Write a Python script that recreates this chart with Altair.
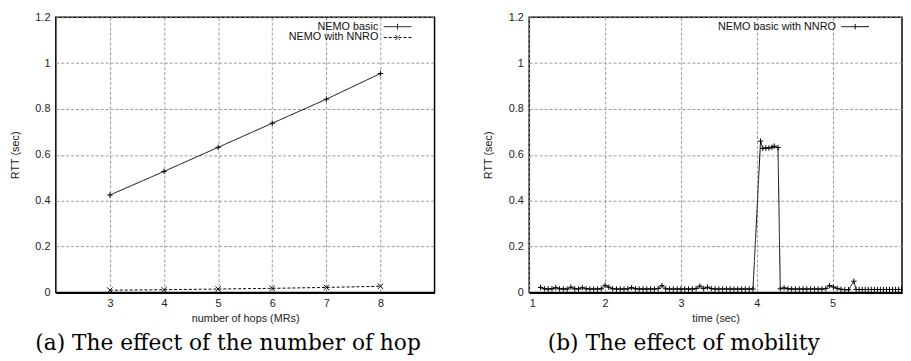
import altair as alt
import pandas as pd

# ---------------- data: panel (a) ----------------
hops = [3, 4, 5, 6, 7, 8]
rtt_basic = [0.425, 0.528, 0.633, 0.738, 0.843, 0.955]
rtt_nnro = [0.010, 0.012, 0.015, 0.018, 0.022, 0.027]
series_a = ["NEMO basic", "NEMO with NNRO"]

# ---------------- data: panel (b) ----------------
time_b = [1.15, 1.20, 1.25, 1.30, 1.35, 1.40, 1.45, 1.50, 1.55, 1.60,
          1.65, 1.70, 1.75, 1.80, 1.85, 1.90, 1.95, 2.00, 2.05, 2.10,
          2.15, 2.20, 2.25, 2.30, 2.35, 2.40, 2.45, 2.50, 2.55, 2.60,
          2.65, 2.70, 2.75, 2.80, 2.85, 2.90, 2.95, 3.00, 3.05, 3.10,
          3.15, 3.20, 3.25, 3.30, 3.35, 3.40, 3.45, 3.50, 3.55, 3.60,
          3.65, 3.70, 3.75, 3.80, 3.85, 3.90, 3.95,
          4.05, 4.08, 4.12, 4.16, 4.20, 4.23, 4.28,
          4.31, 4.36, 4.41, 4.46, 4.51, 4.56, 4.61, 4.66, 4.71, 4.76,
          4.81, 4.86, 4.91, 4.96, 5.01, 5.06, 5.11, 5.16, 5.21, 5.28,
          5.31, 5.35, 5.39, 5.43, 5.47, 5.51, 5.55, 5.59, 5.63, 5.67,
          5.71, 5.75, 5.79, 5.83, 5.87, 5.91, 5.95]
rtt_b = [0.022, 0.016, 0.015, 0.016, 0.021, 0.016, 0.015, 0.015, 0.023, 0.016,
         0.015, 0.021, 0.016, 0.015, 0.015, 0.015, 0.016, 0.031, 0.023, 0.016,
         0.015, 0.015, 0.015, 0.016, 0.021, 0.016, 0.015, 0.015, 0.015, 0.015,
         0.015, 0.017, 0.030, 0.016, 0.015, 0.015, 0.015, 0.015, 0.015, 0.015,
         0.015, 0.017, 0.028, 0.017, 0.023, 0.017, 0.015, 0.015, 0.015, 0.015,
         0.015, 0.015, 0.015, 0.015, 0.015, 0.015, 0.015,
         0.660, 0.628, 0.630, 0.630, 0.633, 0.638, 0.632,
         0.016, 0.020, 0.016, 0.015, 0.015, 0.015, 0.015, 0.015, 0.015, 0.015,
         0.015, 0.015, 0.017, 0.030, 0.024, 0.018, 0.014, 0.012, 0.012, 0.049,
         0.013, 0.013, 0.013, 0.013, 0.013, 0.013, 0.013, 0.013, 0.013, 0.013,
         0.013, 0.013, 0.013, 0.013, 0.013, 0.013, 0.013]
series_b = ["NEMO basic with NNRO"]

y_ticks = [0, 0.2, 0.4, 0.6, 0.8, 1.0, 1.2]
x_ticks_a = [3, 4, 5, 6, 7, 8]
x_ticks_b = [1, 2, 3, 4, 5]

df_a = pd.DataFrame({
    "hops": hops + hops,
    "rtt": rtt_basic + rtt_nnro,
    "series": [series_a[0]] * len(hops) + [series_a[1]] * len(hops),
})
df_b = pd.DataFrame({"time": time_b, "rtt": rtt_b, "series": series_b * len(time_b)})

PLUS = "M-1,0H1M0,-1V1"
CROSS = "M-1,-1L1,1M-1,1L1,-1"
LEG_PLUS = "M-4,0H4M0,-0.8V0.8"
LEG_CROSS = "M-4,0H4M-0.6,-0.7L0.6,0.7M-0.6,0.7L0.6,-0.7"

FONT = "Liberation Sans"
SERIF = "DejaVu Serif"

axis_common = dict(labelFont=FONT, labelFontSize=11, labelColor="#222",
                   titleFont=FONT, titleFontSize=11, titleFontWeight="normal",
                   titleColor="#222", ticks=False, tickSize=0, grid=True,
                   gridColor="#999", gridDash=[3, 2], gridWidth=1)


def y_enc():
    return alt.Y("rtt:Q", scale=alt.Scale(domain=[0, 1.2], nice=False, zero=False),
                 axis=alt.Axis(values=y_ticks, format="~g", title="RTT (sec)",
                               labelPadding=6, titlePadding=14.5, domain=False,
                               **axis_common))


def legend(x, y, shape_expr):
    return alt.Legend(title=None, orient="none", legendX=x, legendY=y,
                      labelFont=FONT, labelFontSize=11, labelColor="#111",
                      labelAlign="right", labelOffset={"expr": "-25"}, symbolSize=49,
                      symbolStrokeWidth=1, symbolStrokeColor="black",
                      symbolFillColor="transparent", rowPadding=-8, padding=0,
                      symbolType={"expr": shape_expr})


def caption(text, dx):
    return alt.TitleParams(text, orient="bottom", font=SERIF, fontSize=22,
                           fontWeight="normal", color="black", anchor="middle",
                           frame="bounds", offset=10.5, dx=dx)


# ---------------- panel (a) ----------------
x_a = alt.X("hops:Q", scale=alt.Scale(domain=[2, 9], nice=False, zero=False),
            axis=alt.Axis(values=x_ticks_a, title="number of hops (MRs)",
                          labelPadding=5, titlePadding=4, domain=True,
                          domainColor="black", domainWidth=2, **axis_common))

shape_a = f"datum.value === '{series_a[0]}' ? '{LEG_PLUS}' : '{LEG_CROSS}'"

lines_a = alt.Chart(df_a).mark_line(color="black", strokeWidth=1).encode(
    x=x_a, y=y_enc(),
    strokeDash=alt.StrokeDash("series:N",
                              scale=alt.Scale(domain=series_a, range=[[1, 0], [3, 2]]),
                              legend=legend(341, 4, shape_a)),
)
points_a = alt.Chart(df_a).mark_point(filled=False, color="black", strokeWidth=1,
                                      size=30, opacity=1).encode(
    x=x_a, y=y_enc(),
    shape=alt.Shape("series:N", scale=alt.Scale(domain=series_a, range=[PLUS, CROSS]),
                    legend=None),
)
panel_a = alt.layer(lines_a, points_a).properties(
    width=384, height=279,
    title=caption("(a) The effect of the number of hop", 6),
).resolve_scale(strokeDash="independent", shape="independent")

# ---------------- panel (b) ----------------
x_b = alt.X("time:Q", scale=alt.Scale(domain=[1, 5.915], nice=False, zero=False),
            axis=alt.Axis(values=x_ticks_b, title="time (sec)", format="d",
                          labelPadding=5, titlePadding=4, domain=True,
                          domainColor="black", domainWidth=2, **axis_common))

shape_b = f"'{LEG_PLUS}'"

lines_b = alt.Chart(df_b).mark_line(color="black", strokeWidth=1, clip=True).encode(
    x=x_b, y=y_enc(),
    strokeDash=alt.StrokeDash("series:N",
                              scale=alt.Scale(domain=series_b, range=[[1, 0]]),
                              legend=legend(325, 4, shape_b)),
)
points_b = alt.Chart(df_b).mark_point(filled=False, color="black", strokeWidth=1,
                                      size=30, opacity=1, clip=True,
                                      shape=PLUS).encode(
    x=x_b, y=y_enc(),
)
panel_b = alt.layer(lines_b, points_b).properties(
    width=378, height=279,
    title=caption("(b) The effect of mobility", -9),
)

chart = alt.hconcat(panel_a, panel_b, spacing=47).resolve_scale(
    x="independent", strokeDash="independent", shape="independent"
).properties(
    padding={"left": 0.5, "top": 0, "right": 0, "bottom": 0},
    background="white",
).configure_view(stroke="black", strokeWidth=1.5)

chart.save("out.html", embed_options={"renderer": "svg", "actions": False})
